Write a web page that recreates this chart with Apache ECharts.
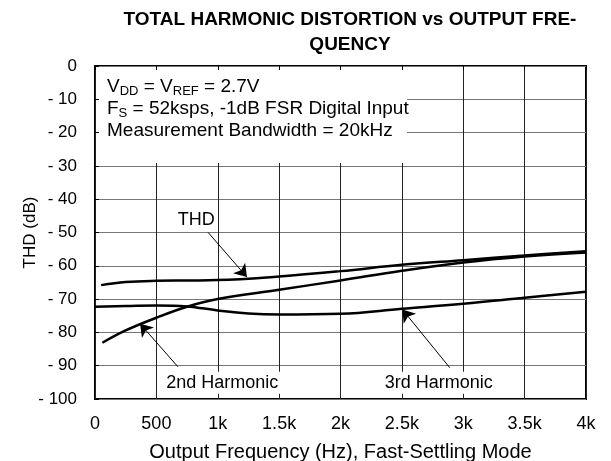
<!DOCTYPE html>
<html>
<head>
<meta charset="utf-8">
<script src="https://cdn.jsdelivr.net/npm/echarts@6/dist/echarts.min.js"></script>
<style>
html, body { margin: 0; padding: 0; background: #fff; }
#chart { width: 611px; height: 461px; }
</style>
</head>
<body>
<div id="chart"></div>
<script>
// values (Hz, dB)
var thdFreq = [50, 250, 500, 750, 1000, 1500, 2000, 2500, 3000, 3500, 4000];
var thdDb   = [-65.8, -64.9, -64.5, -64.4, -64.3, -63.2, -61.6, -59.7, -58.3, -56.9, -55.6];

var h2Freq = [60, 250, 500, 750, 1000, 1500, 2000, 2500, 3000, 3500, 4000];
var h2Db   = [-83.1, -79.4, -75.6, -72.3, -70.0, -67.2, -64.4, -61.5, -59.0, -57.2, -56.0];

var h3Freq = [0, 250, 500, 750, 1000, 1250, 1500, 2000, 2500, 3000, 3500, 4000];
var h3Db   = [-72.3, -72.1, -71.9, -72.2, -73.4, -74.3, -74.6, -74.4, -72.9, -71.4, -69.6, -67.8];

var xTicks = ['0', '500', '1k', '1.5k', '2k', '2.5k', '3k', '3.5k', '4k'];

function pairs(xs, ys) {
  return xs.map(function (x, i) { return [x, ys[i]]; });
}

var myChart = echarts.init(document.getElementById('chart'));
var font = 'Liberation Sans, Arial, sans-serif';

var curve = { color: '#000', width: 2.5 };
var innerTick = { show: true, inside: true, length: 4, lineStyle: { color: '#000', width: 1 } };

myChart.setOption({
  animation: false,
  textStyle: { fontFamily: font },
  title: {
    text: 'TOTAL HARMONIC DISTORTION vs OUTPUT FRE-\nQUENCY',
    left: 345,
    textAlign: 'center',
    top: 2,
    textStyle: { fontSize: 19, fontWeight: 'bold', color: '#000', lineHeight: 25, fontFamily: font }
  },
  grid: {
    left: 95, right: 25, top: 66, bottom: 62, outerBoundsMode: 'none',
    show: true, borderColor: '#000', borderWidth: 2
  },
  xAxis: [{
    type: 'value', min: 0, max: 4000, interval: 500,
    name: 'Output Frequency (Hz), Fast-Settling Mode',
    nameLocation: 'middle', nameGap: 43, nameMoveOverlap: false,
    nameTextStyle: { fontSize: 20, color: '#000' },
    axisLine: { show: false },
    axisTick: { show: false },
    axisLabel: {
      fontSize: 18, color: '#000', margin: 16,
      formatter: function (v) { return xTicks[Math.round(v / 500)]; }
    },
    splitLine: { lineStyle: { color: '#222', width: 1 } }
  }, {
    type: 'value', min: 0, max: 4000, interval: 500, position: 'top', z: 5,
    axisLine: { show: false }, axisLabel: { show: false }, splitLine: { show: false },
    axisTick: innerTick
  }],
  yAxis: [{
    type: 'value', min: -100, max: 0, interval: 10,
    name: 'THD (dB)',
    nameLocation: 'middle', nameGap: 65, nameMoveOverlap: false,
    nameTextStyle: { fontSize: 17, color: '#000', verticalAlign: 'middle' },
    axisLine: { show: false },
    axisTick: { show: false },
    axisLabel: {
      fontSize: 17, color: '#000', margin: 18,
      formatter: function (v) { return v < 0 ? '- ' + (-v) : '' + v; }
    },
    splitLine: { lineStyle: { color: '#777', width: 1 } }
  }, {
    type: 'value', min: -100, max: 0, interval: 10, position: 'left', z: 5,
    axisLine: { show: false }, axisLabel: { show: false }, splitLine: { show: false },
    axisTick: innerTick
  }],
  graphic: [{
    // white panel behind the test conditions
    type: 'rect', z: 1,
    shape: { x: 96, y: 67, width: 311, height: 96 },
    style: { fill: '#fff' }
  }, {
    type: 'text', z: 2,
    left: 107, top: 76,
    style: {
      text: 'V{sub|DD} = V{sub|REF} = 2.7V\nF{sub|S} = 52ksps, -1dB FSR Digital Input\nMeasurement Bandwidth = 20kHz',
      fontSize: 19, fontFamily: font, fill: '#000', lineHeight: 22,
      rich: {
        sub: { fontSize: 13, fontFamily: font, verticalAlign: 'bottom', lineHeight: 16, padding: [7, 0, 0, 0] }
      }
    }
  }],
  series: [{
    name: 'THD', type: 'line', data: pairs(thdFreq, thdDb),
    smooth: 0.4, symbol: 'none', lineStyle: curve, z: 3
  }, {
    name: '2nd Harmonic', type: 'line', data: pairs(h2Freq, h2Db),
    smooth: 0.4, symbol: 'none', lineStyle: curve, z: 3
  }, {
    name: '3rd Harmonic', type: 'line', data: pairs(h3Freq, h3Db),
    smooth: 0.4, symbol: 'none', lineStyle: curve, z: 3
  }, {
    name: 'notes', type: 'line', data: [], z: 4,
    markLine: {
      silent: true, symbol: ['none', 'arrow'], symbolSize: 12,
      lineStyle: { color: '#000', width: 1, type: 'solid' },
      label: { show: false },
      data: [
        [{ coord: [922, -50.0] }, { coord: [1238, -63.4] }],
        [{ coord: [675, -90.3] }, { coord: [367, -77.4] }],
        [{ coord: [2890, -90.6] }, { coord: [2504, -73.1] }]
      ]
    },
    markPoint: {
      silent: true, symbol: 'rect', symbolSize: 0,
      label: {
        show: true, position: 'inside', fontSize: 18, color: '#000', fontFamily: font,
        backgroundColor: '#fff', padding: [2, 4],
        formatter: function (p) { return p.name; }
      },
      data: [
        { name: 'THD', coord: [824, -46.2], label: { backgroundColor: 'transparent' } },
        { name: '2nd Harmonic', coord: [1037, -95.1] },
        { name: '3rd Harmonic', coord: [2800, -95.1] }
      ]
    }
  }]
});
</script>
</body>
</html>
